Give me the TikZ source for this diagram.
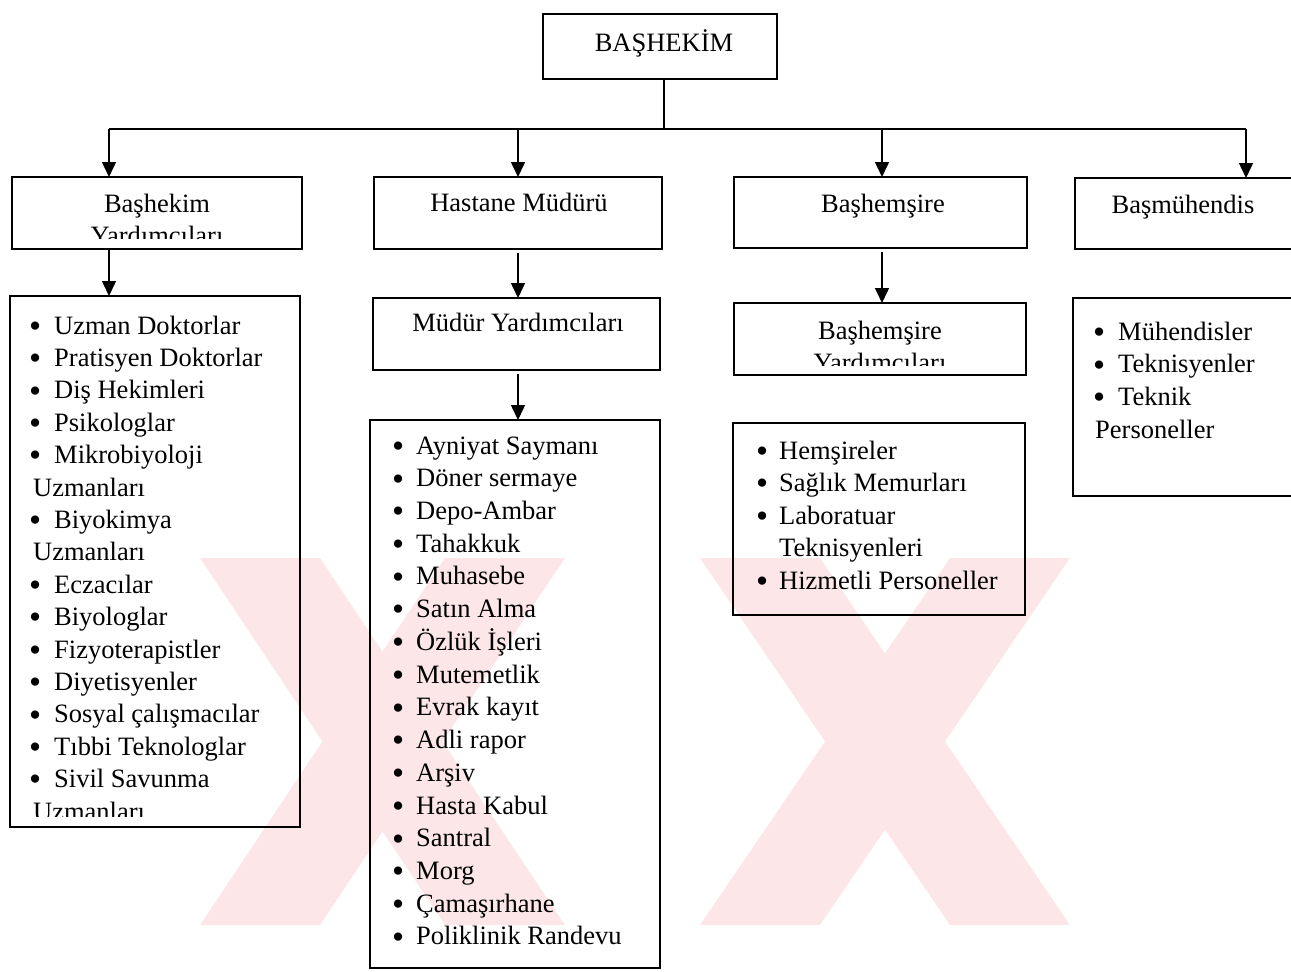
\documentclass[tikz,border=0pt]{standalone}
\usepackage{fontspec}
\setmainfont{Liberation Serif}
\usetikzlibrary{arrows.meta,calc}
\definecolor{markpink}{RGB}{252,230,232}
\newcommand\fs{\fontsize{26.5}{32}\selectfont}
% bullet in a box of given width
\newcommand\bl[1][25pt]{\makebox[#1][l]{\raisebox{-3.3pt}{\scalebox{1.3}{•}}}}
\begin{document}
\begin{tikzpicture}[x=1pt,y=-1pt,
  box/.style={draw, line width=1.5pt, anchor=north west, inner sep=0pt, outer sep=0pt},
  ln/.style={line width=1.5pt},
  arr/.style={line width=1.5pt, -{Triangle[length=15pt,width=14pt]}},
  ttl/.style={anchor=base, font=\fs, inner sep=0pt},
  itm/.style={anchor=base west, font=\fs, inner sep=0pt},
  band/.style={fill=markpink, draw=none}]
\useasboundingbox (0,0) rectangle (1291,972);
\clip (0,0) rectangle (1291,972);

% pale background mark
\fill[band] (200,558) -- (320,558) -- (565,925) -- (445,925) -- cycle;
\fill[band] (445,558) -- (565,558) -- (320,925) -- (200,925) -- cycle;
\fill[band] (700,558) -- (820,558) -- (1070,925) -- (950,925) -- cycle;
\fill[band] (950,558) -- (1070,558) -- (820,925) -- (700,925) -- cycle;

% boxes
\node[box, minimum width=234pt, minimum height=65pt] (top) at (543,14) {};
\node[box, minimum width=290pt, minimum height=72pt] (bhy) at (12,177) {};
\node[box, minimum width=288pt, minimum height=72pt] (hm) at (374,177) {};
\node[box, minimum width=293pt, minimum height=71pt] (bhs) at (734,177) {};
\node[box, minimum width=230pt, minimum height=71pt] (bm) at (1075,178) {};
\node[box, minimum width=290pt, minimum height=531pt] (la) at (10,296) {};
\node[box, minimum width=287pt, minimum height=72pt] (my) at (373,298) {};
\node[box, minimum width=290pt, minimum height=548pt] (lb) at (370,420) {};
\node[box, minimum width=292pt, minimum height=72pt] (bhsy) at (734,303) {};
\node[box, minimum width=292pt, minimum height=192pt] (lc) at (733,423) {};
\node[box, minimum width=230pt, minimum height=198pt] (ld) at (1073,298) {};

% box titles
\node[ttl] (t0) at (664,51) {BAŞHEKİM};
\begin{scope}
  \clip (bhy.north west) rectangle ($(bhy.south east)+(0,-11)$);
  \node[ttl] (t1) at (157,212) {Başhekim};
  \node[ttl] (t1b) at (157,244) {Yardımcıları};
\end{scope}
\node[ttl] (t2) at (519,211) {Hastane Müdürü};
\node[ttl] (t3) at (883,212) {Başhemşire};
\node[ttl] (t4) at (1183,213) {Başmühendis};
\node[ttl] (t5) at (518,331) {Müdür Yardımcıları};
\begin{scope}
  \clip (bhsy.north west) rectangle ($(bhsy.south east)+(0,-10)$);
  \node[ttl] (t6) at (880,339) {Başhemşire};
  \node[ttl] (t6b) at (880,371) {Yardımcıları};
\end{scope}

% staff lists
\begin{scope}
  \clip (la.north west) rectangle ($(la.south east)+(0,-11)$);
  \foreach \t [count=\i] in {{\bl Uzman Doktorlar},{\bl Pratisyen Doktorlar},
      {\bl Diş Hekimleri},{\bl Psikologlar},{\bl Mikrobiyoloji},{\hspace{4pt}Uzmanları},
      {\bl Biyokimya},{\hspace{4pt}Uzmanları},{\bl Eczacılar},{\bl Biyologlar},
      {\bl Fizyoterapistler},{\bl Diyetisyenler},{\bl Sosyal çalışmacılar},
      {\bl Tıbbi Teknologlar},{\bl Sivil Savunma},{\hspace{4pt}Uzmanları}}
    \node[itm] (a\i) at (29,{334+32.4*(\i-1)}) {\t};
\end{scope}
\foreach \t [count=\i] in {{\bl[24pt]Ayniyat Saymanı},{\bl[24pt]Döner sermaye},
    {\bl[24pt]Depo-Ambar},{\bl[24pt]Tahakkuk},{\bl[24pt]Muhasebe},{\bl[24pt]Satın Alma},
    {\bl[24pt]Özlük İşleri},{\bl[24pt]Mutemetlik},{\bl[24pt]Evrak kayıt},{\bl[24pt]Adli rapor},
    {\bl[24pt]Arşiv},{\bl[24pt]Hasta Kabul},{\bl[24pt]Santral},{\bl[24pt]Morg},
    {\bl[24pt]Çamaşırhane},{\bl[24pt]Poliklinik Randevu}}
  \node[itm] (b\i) at (392,{454+32.73*(\i-1)}) {\t};
\foreach \t [count=\i] in {{\bl[23pt]Hemşireler},{\bl[23pt]Sağlık Memurları},
    {\bl[23pt]Laboratuar},{\hspace{23pt}Teknisyenleri},{\bl[23pt]Hizmetli Personeller}}
  \node[itm] (c\i) at (756,{459+32.5*(\i-1)}) {\t};
\foreach \t [count=\i] in {{\bl Mühendisler},{\bl Teknisyenler},
    {\bl Teknik},{\hspace{2pt}Personeller}}
  \node[itm] (d\i) at (1093,{340+32.7*(\i-1)}) {\t};

% connectors
\coordinate (jt) at (664,129);
\coordinate (ja) at (109,129);
\coordinate (jb) at (518,129);
\coordinate (jc) at (882,129);
\coordinate (jd) at (1246,129);
\draw[ln] (jt |- top.south) -- (jt);
\draw[ln] (ja) -- (jd);
\draw[arr] (ja) -- (ja |- bhy.north);
\draw[arr] (jb) -- (jb |- hm.north);
\draw[arr] (jc) -- (jc |- bhs.north);
\draw[arr] (jd) -- (jd |- bm.north);
\draw[arr] (ja |- bhy.south) -- (ja |- la.north);
\draw[arr] ($(jb |- hm.south)+(0,4)$) -- (jb |- my.north);
\draw[arr] ($(jb |- my.south)+(0,4)$) -- (jb |- lb.north);
\draw[arr] ($(jc |- bhs.south)+(0,4)$) -- (jc |- bhsy.north);
\end{tikzpicture}
\end{document}
